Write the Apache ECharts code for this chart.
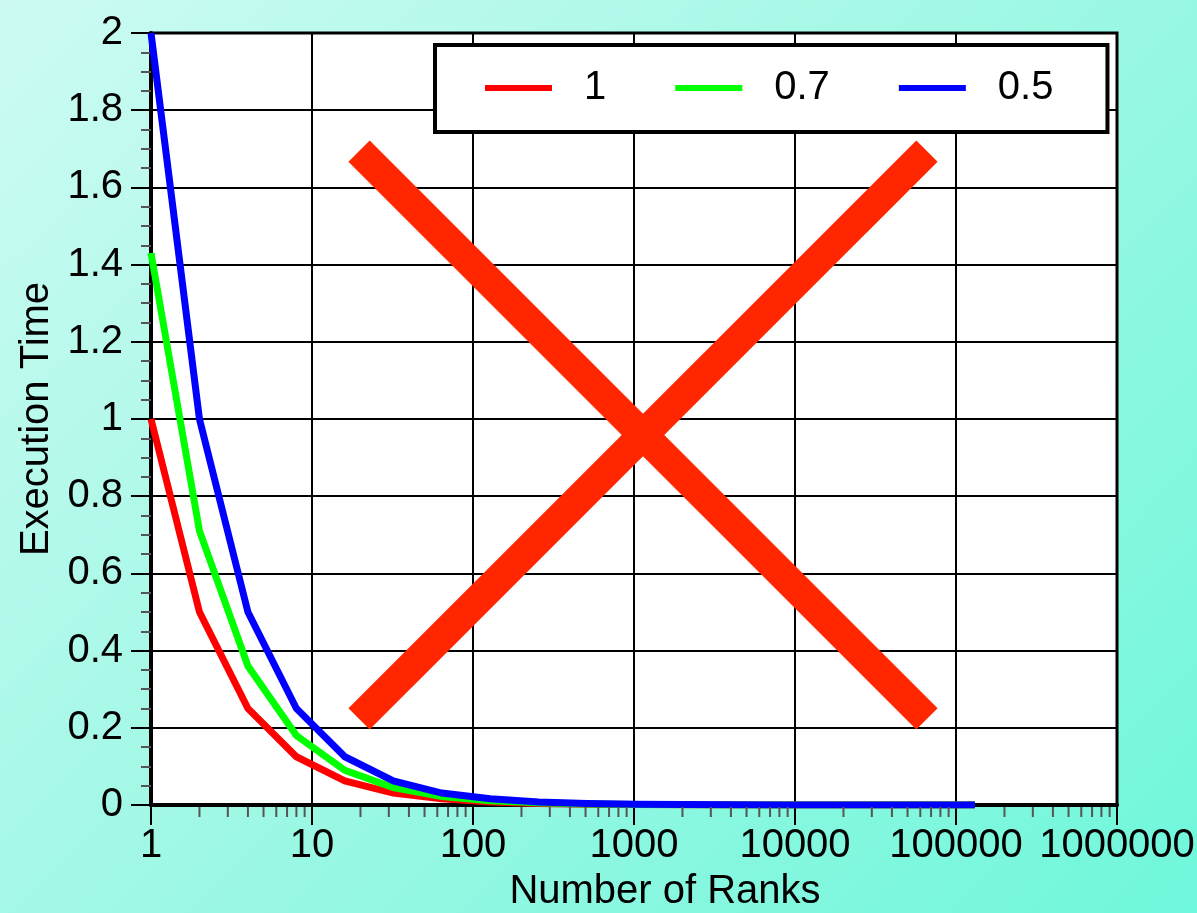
<!DOCTYPE html>
<html>
<head>
<meta charset="utf-8">
<script src="https://cdn.jsdelivr.net/npm/echarts@6/dist/echarts.min.js"></script>
<style>
html,body{margin:0;padding:0;}
#chart{width:1197px;height:913px;background:linear-gradient(135deg,#cdfbf3 0%,#9ef8e4 50%,#6ff7db 100%);}
</style>
</head>
<body>
<div id="chart"></div>
<script>
// Number of ranks (x) — powers of two
const ranks = [1,2,4,8,16,32,64,128,256,512,1024,2048,4096,8192,16384,32768,65536,131072];
// Execution time series
const seriesNames = ['1','0.7','0.5'];
const timeP1  = [1.00,0.50,0.25,0.125,0.0625,0.031,0.016,0.008,0.004,0.002,0.001,0.0005,0.0002,0.0001,0.0001,0,0,0];
const timeP07 = [1.43,0.71,0.36,0.18,0.09,0.045,0.022,0.011,0.0056,0.0028,0.0014,0.0007,0.0003,0.0002,0.0001,0,0,0];
const timeP05 = [2.00,1.00,0.50,0.25,0.125,0.0625,0.031,0.016,0.008,0.004,0.002,0.001,0.0005,0.0002,0.0001,0.0001,0,0];
const seriesColors = ['#ff0000','#00ff00','#0000ff'];
// Axis ticks
const xMin = 1, xMax = 1000000;
const yMin = 0, yMax = 2, yInterval = 0.2;
const xMinorTicks = [];
for (let d = 1; d < xMax; d *= 10) { for (let k = 2; k <= 9; k++) xMinorTicks.push(k * d); }
// Big red cross annotation (data coordinates of its stroke ends)
const crossA = [[19.6, 1.694], [66000, 0.223]];
const crossB = [[66000, 1.694], [19.6, 0.223]];

const FONT = 'Liberation Sans';
const FS = 40;
const chart = echarts.init(document.getElementById('chart'), null, {renderer:'canvas'});

function pairs(xs, ys){ return xs.map((x,i)=>[x, ys[i]]); }

const lineSeries = [timeP1, timeP07, timeP05].map((vals, i) => ({
  name: seriesNames[i],
  type: 'line',
  data: pairs(ranks, vals),
  showSymbol: false,
  symbol: 'none',
  lineStyle: {color: seriesColors[i], width: 7, join: 'miter'},
  itemStyle: {color: seriesColors[i]},
  z: 3 + i,
  animation: false
}));

lineSeries[0].markLine = {
  silent: true,
  symbol: ['none','none'],
  label: {show: false},
  lineStyle: {color: '#ff2600', width: 30, type: 'solid', cap: 'butt'},
  animation: false,
  data: [
    [{coord: crossA[0]}, {coord: crossA[1]}],
    [{coord: crossB[0]}, {coord: crossB[1]}]
  ]
};

const option = {
  backgroundColor: 'transparent',
  animation: false,
  textStyle: {fontFamily: FONT},
  grid: {left: 151, right: 80, top: 33, bottom: 108, outerBoundsMode: 'none', containLabel: false,
         show: true, backgroundColor: '#ffffff', borderColor: '#000', borderWidth: 3},
  legend: {
    data: seriesNames,
    left: 435, top: 45,
    orient: 'horizontal',
    padding: [23, 54, 24, 50],
    backgroundColor: '#ffffff',
    borderColor: '#000',
    borderWidth: 4,
    borderRadius: 0,
    icon: 'rect',
    itemWidth: 67,
    itemHeight: 6,
    itemGap: 69,
    textStyle: {fontFamily: FONT, fontSize: FS, color: '#000', padding: [0,0,0,27]}
  },
  xAxis: {
    type: 'log', logBase: 10, min: xMin, max: xMax,
    name: 'Number of Ranks', nameLocation: 'middle', nameGap: 67,
    nameTextStyle: {fontFamily: FONT, fontSize: FS, color: '#000', padding: [0,0,0,62]},
    axisLine: {show: true, onZero: false, lineStyle: {color: '#000', width: 4}},
    axisTick: {show: true, inside: false, length: 20, lineStyle: {color: '#000', width: 2}},
    axisLabel: {fontFamily: FONT, fontSize: FS, color: '#000', margin: 21, formatter: v => String(Math.round(v))},
    splitLine: {show: true, lineStyle: {color: '#000', width: 2}},
    minorTick: {show: false}
  },
  yAxis: {
    type: 'value', min: yMin, max: yMax, interval: yInterval,
    name: 'Execution Time', nameLocation: 'middle', nameGap: 94, nameRotate: 90,
    nameTextStyle: {fontFamily: FONT, fontSize: FS, color: '#000'},
    axisLine: {show: true, lineStyle: {color: '#000', width: 4}},
    axisTick: {show: true, inside: false, length: 20, lineStyle: {color: '#000', width: 2}},
    minorTick: {show: true, splitNumber: 4, length: 10, lineStyle: {color: '#555', width: 2}},
    axisLabel: {fontFamily: FONT, fontSize: FS, color: '#000', margin: 28},
    splitLine: {show: true, lineStyle: {color: '#000', width: 2}}
  },
  series: [
    ...lineSeries,
    {
      type: 'custom',
      name: 'minorTicks',
      silent: true,
      clip: false,
      z: 10,
      data: xMinorTicks.map(v => [v, yMin]),
      renderItem: function (params, api) {
        const p = api.coord([api.value(0), api.value(1)]);
        return {type: 'line', shape: {x1: p[0], y1: p[1] + 2, x2: p[0], y2: p[1] + 12},
                style: {stroke: '#555', lineWidth: 2}};
      }
    }
  ]
};
chart.setOption(option);
</script>
</body>
</html>
